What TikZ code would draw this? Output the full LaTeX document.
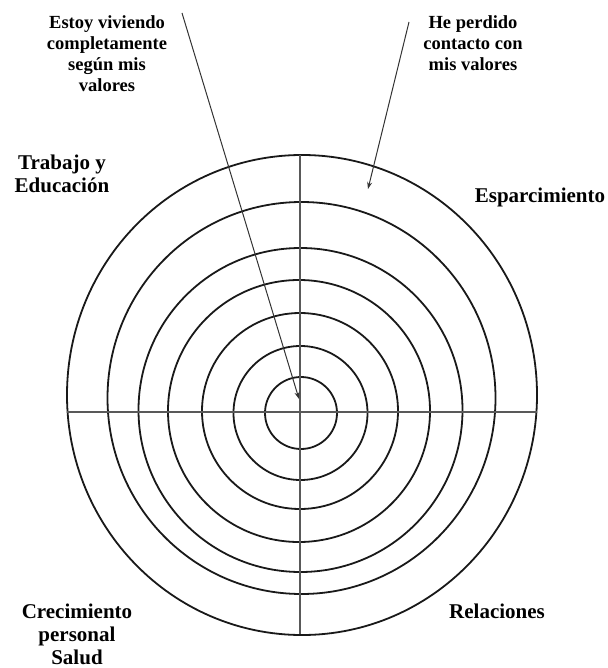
\documentclass[tikz,border=0pt]{standalone}
\usepackage{fontspec}
\setmainfont{Liberation Serif}
\usetikzlibrary{arrows.meta}
\begin{document}
\begin{tikzpicture}[x=1pt,y=-1pt,
  ring/.style={line width=1.8pt,draw=black!90},
  axis/.style={line width=1.2pt,draw=black!65},
  pointer/.style={line width=1pt,draw=black!80,-{Stealth[length=7pt,width=5pt]}},
  cat/.style={font=\bfseries\fontsize{21}{23}\selectfont,align=center,inner sep=0pt},
  note/.style={font=\bfseries\fontsize{18.5}{21}\selectfont,align=center,inner sep=0pt}]
\useasboundingbox (0,0) rectangle (607,668);
% rings
\draw[ring] (302,395) ellipse [x radius=235,y radius=240];
\draw[ring] (301.5,398) ellipse [x radius=194,y radius=196];
\draw[ring] (300.5,410) circle [radius=162];
\draw[ring] (299,411) circle [radius=131];
\draw[ring] (300,411) circle [radius=98];
\draw[ring] (300.5,413) circle [radius=67];
\draw[ring] (301,413) circle [radius=36];
% axes
\coordinate (vt) at (300,155);
\coordinate (vb) at (300,634);
\coordinate (hl) at (67,412);
\coordinate (hr) at (537,412);
\draw[axis] (vt) -- (vb);
\draw[axis] (hl) -- (hr);
% labels
\node[note] (estoy) at (107,54) {Estoy viviendo\\completamente\\según mis\\valores};
\node[note] (perdido) at (473,43) {He perdido\\contacto con\\mis valores};
\node[cat] (trabajo) at (62,174) {Trabajo y\\Educación};
\node[cat] (espar) at (540,197) {Esparcimiento};
\node[cat] (crec) at (77,634) {Crecimiento\\personal\\Salud};
\node[cat] (rel) at (497,611) {Relaciones};
% pointers
\coordinate (p1s) at (182,13);
\coordinate (p1e) at (299,399);
\coordinate (p2s) at (409,22);
\coordinate (p2e) at (368,189);
\draw[pointer] (p1s) -- (p1e);
\draw[pointer] (p2s) -- (p2e);
\end{tikzpicture}
\end{document}
